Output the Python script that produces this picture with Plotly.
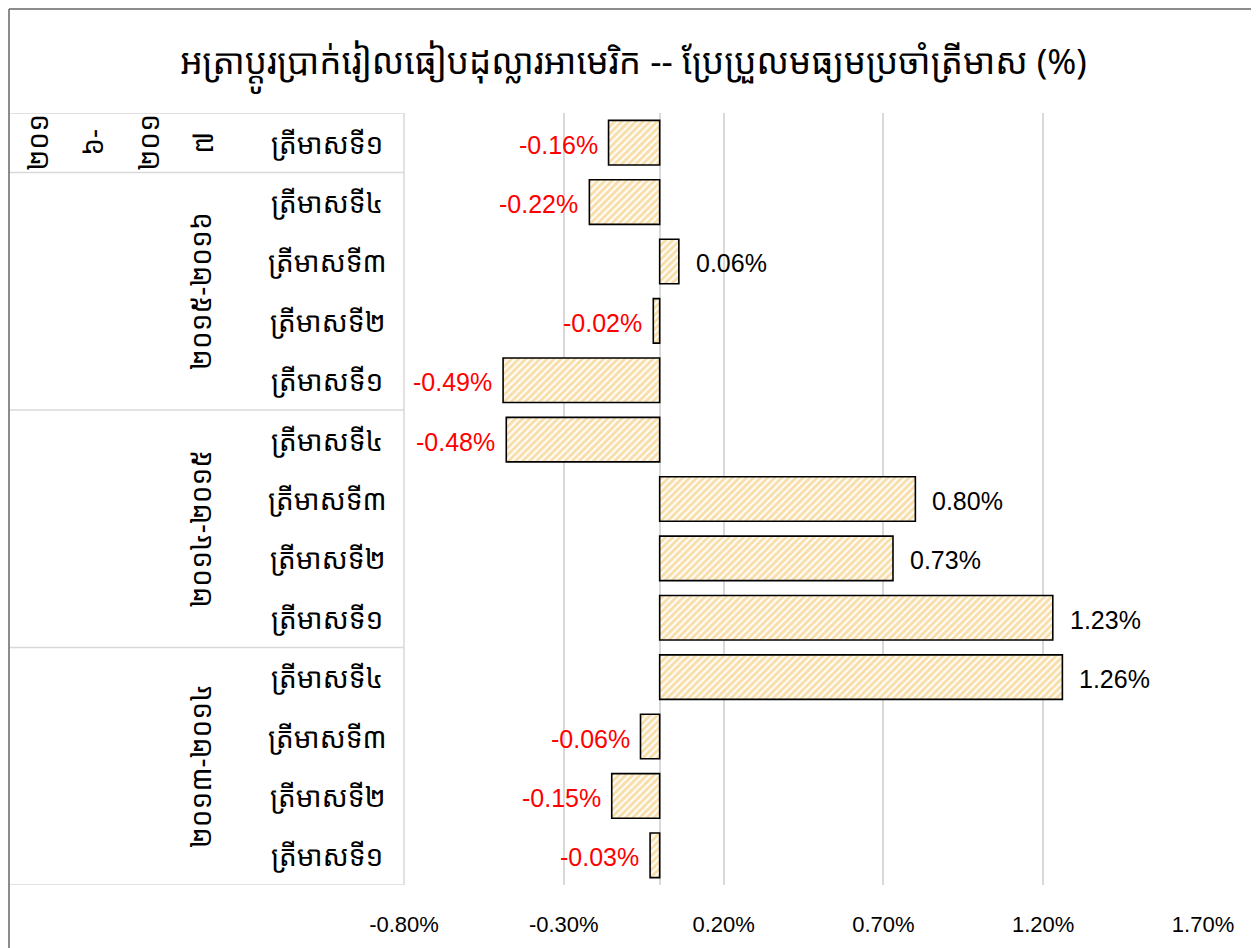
import plotly.graph_objects as go

# ---- data ----
periods = ["២០១៣-២០១៤", "២០១៤-២០១៥", "២០១៥-២០១៦", "២០១៦-២០១៧"]
quarters = ["ត្រីមាសទី១", "ត្រីមាសទី២", "ត្រីមាសទី៣", "ត្រីមាសទី៤"]
period_2013 = [-0.03, -0.15, -0.06, 1.26]
period_2014 = [1.23, 0.73, 0.80, -0.48]
period_2015 = [-0.49, -0.02, 0.06, -0.22]
period_2016 = [-0.16]
x_ticks = [-0.80, -0.30, 0.20, 0.70, 1.20, 1.70]
title_text = "អត្រាប្តូរប្រាក់រៀលធៀបដុល្លារអាមេរិក -- ប្រែប្រួលមធ្យមប្រចាំត្រីមាស (%)"

series = [period_2013, period_2014, period_2015, period_2016]
values, qlabels, group_of = [], [], []
for gi, s in enumerate(series):
    for qi, v in enumerate(s):
        values.append(v)
        qlabels.append(quarters[qi])
        group_of.append(gi)
ypos = list(range(len(values)))

KH = "Noto Sans Khmer, Khmer OS, Khmer OS System, Noto Serif Khmer, sans-serif"
NUM = "Liberation Sans, Arial, sans-serif"

OFF = 8  # page body margin
W, H = 1259 - OFF, 948 - OFF
L, R, T, B = 404, 1203, 113, 885  # plot area in page pixels
pw, ph = R - L, B - T

def px(x):
    return (x - L) / pw

def py(y):
    return (B - y) / ph

fig = go.Figure()
fig.add_trace(go.Bar(
    x=values, y=ypos, orientation="h", width=0.75,
    marker=dict(color="white",
                line=dict(color="black", width=1.6),
                pattern=dict(shape="/", fgcolor="#F2BE55", bgcolor="white",
                             size=5, solidity=0.6)),
    hoverinfo="x+y", showlegend=False,
))

annotations = []
# data labels
for v, y in zip(values, ypos):
    annotations.append(dict(
        x=v, y=y, xref="x", yref="y", text=f"{v:.2f}%",
        showarrow=False, xanchor="left" if v >= 0 else "right",
        xshift=15 if v >= 0 else -9, yshift=-2,
        font=dict(family=NUM, size=25, color="black" if v >= 0 else "#FF0000"),
    ))
# quarter labels
for q, y in zip(qlabels, ypos):
    annotations.append(dict(
        x=px(327), y=y, xref="paper", yref="y", text=q, showarrow=False,
        xanchor="center", font=dict(family=KH, size=28, color="black"),
    ))
# group labels
for gi, p in enumerate(periods[:3]):
    idx = [i for i, g in enumerate(group_of) if g == gi]
    yc = (idx[0] + idx[-1]) / 2
    annotations.append(dict(
        x=px(200), y=yc, xref="paper", yref="y", text=p, showarrow=False,
        textangle=-90, xanchor="center", yanchor="middle",
        font=dict(family=KH, size=28, color="black"),
    ))
# last group label wrapped into narrow columns
last_idx = [i for i, g in enumerate(group_of) if g == 3][0]
parts = [periods[3][0:3], periods[3][3:5], periods[3][5:8], periods[3][8:]]
for xp, part in zip([37, 92, 148, 202], parts):
    annotations.append(dict(
        x=px(xp), y=last_idx, xref="paper", yref="y", text=part,
        showarrow=False, textangle=-90, xanchor="center", yanchor="middle",
        font=dict(family=KH, size=28, color="black"),
    ))

shapes = []
# category separator lines in the label area
n = len(values)
bounds = [-0.5, n - 0.5]
acc = -0.5
for s in series:
    acc += len(s)
    bounds.append(acc)
for b in sorted(set(bounds)):
    shapes.append(dict(type="line", xref="paper", yref="y",
                       x0=px(9), x1=0, y0=b, y1=b,
                       line=dict(color="#D9D9D9", width=1.5)))
# vertical axis line
shapes.append(dict(type="line", xref="paper", yref="paper",
                   x0=0, x1=0, y0=0, y1=1,
                   line=dict(color="#D9D9D9", width=1.5)))
# chart border
for x0, y0, x1, y1 in [(9, 9, 9, 960), (9, 9, 1253, 9), (1253, 9, 1253, 960)]:
    shapes.append(dict(type="line", xref="paper", yref="paper",
                       x0=px(x0), y0=py(y0), x1=px(x1), y1=py(y1),
                       line=dict(color="#666666", width=1.5)))

fig.update_layout(
    width=W, height=H, autosize=False,
    margin=dict(l=L - OFF, r=W - (R - OFF), t=T - OFF, b=H - (B - OFF), pad=0),
    plot_bgcolor="white", paper_bgcolor="white",
    title=dict(text=title_text, x=0.5, xanchor="center", y=1 - (62 - OFF) / H,
               yanchor="middle", font=dict(family=KH, size=35, color="black")),
    xaxis=dict(range=[x_ticks[0], x_ticks[-1]], tickvals=x_ticks,
               ticktext=[f"{t:.2f}%" for t in x_ticks],
               showgrid=True, gridcolor="#D9D9D9", gridwidth=1.5,
               zeroline=True, zerolinecolor="#D9D9D9", zerolinewidth=1.5,
               showline=False, ticks="", ticklabelstandoff=24,
               tickfont=dict(family=NUM, size=22, color="black")),
    yaxis=dict(range=[-0.5, n - 0.5], showticklabels=False, showgrid=False,
               zeroline=False, showline=False, ticks=""),
    annotations=annotations, shapes=shapes, bargap=0.25,
)

fig.write_html("out.html")
